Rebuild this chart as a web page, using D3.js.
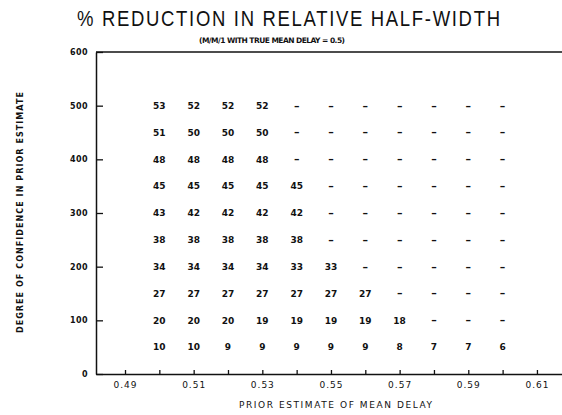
<!DOCTYPE html>
<html>
<head>
<meta charset="utf-8">
<script src="https://cdn.jsdelivr.net/npm/d3@7/dist/d3.min.js"></script>
<style>
  html, body { margin: 0; padding: 0; background: #fff; }
  svg { display: block; }
</style>
</head>
<body>
<div id="chart"></div>
<script>
// prior estimate of mean delay (columns) and degree of confidence (rows)
const priorEstimates = [0.50, 0.51, 0.52, 0.53, 0.54, 0.55, 0.56, 0.57, 0.58, 0.59, 0.60]
const confidenceLevels = [50, 100, 150, 200, 250, 300, 350, 400, 450, 500]
// % reduction, one row per confidence level, null = "-"
const reductions = [
  [10, 10, 9, 9, 9, 9, 9, 8, 7, 7, 6],
  [20, 20, 20, 19, 19, 19, 19, 18, null, null, null],
  [27, 27, 27, 27, 27, 27, 27, null, null, null, null],
  [34, 34, 34, 34, 33, 33, null, null, null, null, null],
  [38, 38, 38, 38, 38, null, null, null, null, null, null],
  [43, 42, 42, 42, 42, null, null, null, null, null, null],
  [45, 45, 45, 45, 45, null, null, null, null, null, null],
  [48, 48, 48, 48, null, null, null, null, null, null, null],
  [51, 50, 50, 50, null, null, null, null, null, null, null],
  [53, 52, 52, 52, null, null, null, null, null, null, null]
]
const xTicks = [0.49, 0.50, 0.51, 0.52, 0.53, 0.54, 0.55, 0.56, 0.57, 0.58, 0.59, 0.60, 0.61]
const xTickLabels = ['0.49', '', '0.51', '', '0.53', '', '0.55', '', '0.57', '', '0.59', '', '0.61']
const yTicks = [0, 100, 200, 300, 400, 500, 600]

const width = 562, height = 415
const plot = {left: 96, right: 562, top: 52, bottom: 374}
const font = "'DejaVu Sans', sans-serif"
const ink = '#111'

const svg = d3.select('#chart').append('svg')
  .attr('width', width)
  .attr('height', height)

const xScale = d3.scaleLinear()
  .domain([0.48155, 0.6173])
  .range([plot.left, plot.right])
const yScale = d3.scaleLinear()
  .domain([0, 600])
  .range([plot.bottom, plot.top])

// titles (narrow, tall, widely spaced like the plotter font)
svg.append('text')
  .text('% REDUCTION IN RELATIVE HALF-WIDTH')
  .attr('transform', 'translate(77,26) scale(1,1.2)')
  .attr('textLength', 423).attr('lengthAdjust', 'spacing')
  .attr('fill', ink)
  .style('font-family', "'Liberation Sans', sans-serif")
  .style('font-size', '18.5px')
svg.append('text')
  .text('(M/M/1 WITH TRUE MEAN DELAY = 0.5)')
  .attr('x', 199).attr('y', 43)
  .attr('textLength', 146).attr('lengthAdjust', 'spacing')
  .attr('fill', ink)
  .style('font-family', font)
  .style('font-weight', 'bold')
  .style('font-size', '7.5px')

// top frame line
svg.append('line')
  .attr('x1', plot.left).attr('x2', plot.right)
  .attr('y1', yScale(600)).attr('y2', yScale(600))
  .attr('stroke', ink).attr('stroke-width', 1.5)

// y axis
const yAxisG = svg.append('g')
  .attr('transform', `translate(${plot.left},0)`)
  .call(d3.axisLeft(yScale).tickValues(yTicks).tickSizeInner(-7).tickSizeOuter(0).tickPadding(8))
yAxisG.select('.domain').attr('stroke', ink).attr('stroke-width', 1.5)
yAxisG.selectAll('.tick line').attr('stroke', ink).attr('stroke-width', 1.3)
yAxisG.selectAll('.tick text')
  .attr('fill', ink)
  .style('font-family', font)
  .style('font-weight', 'bold')
  .style('font-size', '8px')
  .style('letter-spacing', '0.4px')

// x axis
const xAxisG = svg.append('g')
  .attr('transform', `translate(0,${plot.bottom})`)
  .call(d3.axisBottom(xScale).tickValues(xTicks).tickSizeInner(-4).tickSizeOuter(0).tickPadding(8)
    .tickFormat((d, i) => xTickLabels[i]))
xAxisG.select('.domain').attr('stroke', ink).attr('stroke-width', 1.5)
xAxisG.selectAll('.tick line').attr('stroke', ink).attr('stroke-width', 1.3)
xAxisG.selectAll('.tick text')
  .attr('fill', ink)
  .style('font-family', font)
  .style('font-size', '9px')
  .style('letter-spacing', '1px')

// axis titles
svg.append('text')
  .text('PRIOR ESTIMATE OF MEAN DELAY')
  .attr('x', 239).attr('y', 408)
  .attr('textLength', 193).attr('lengthAdjust', 'spacing')
  .attr('fill', ink)
  .style('font-family', font)
  .style('font-size', '9px')
svg.append('text')
  .text('DEGREE OF CONFIDENCE IN PRIOR ESTIMATE')
  .attr('transform', 'translate(23,333) rotate(-90)')
  .attr('textLength', 241).attr('lengthAdjust', 'spacing')
  .attr('fill', ink)
  .style('font-family', font)
  .style('font-weight', 'bold')
  .style('font-size', '8px')

// cells
const cells = []
reductions.forEach((row, r) => {
  row.forEach((v, c) => {
    cells.push({x: priorEstimates[c], y: confidenceLevels[r], v: v})
  })
})
svg.append('g').selectAll('.cell').data(cells)
  .enter().append('text')
  .attr('class', 'cell')
  .text(d => d.v === null ? '\u2013' : d.v)
  .attr('x', d => xScale(d.x))
  .attr('y', d => yScale(d.y))
  .attr('dy', '0.36em')
  .attr('fill', ink)
  .style('text-anchor', 'middle')
  .style('font-family', font)
  .style('font-weight', 'bold')
  .style('font-size', d => d.v === null ? '11px' : '9px')
</script>
</body>
</html>
